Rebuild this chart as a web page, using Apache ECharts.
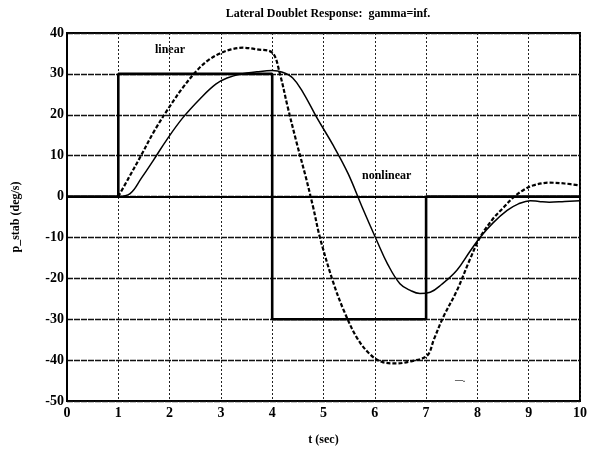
<!DOCTYPE html>
<html><head><meta charset="utf-8">
<script src="https://cdn.jsdelivr.net/npm/echarts@6/dist/echarts.min.js"></script>
<style>html,body{margin:0;padding:0;background:#fff}#c{width:592px;height:453px}</style>
</head><body><div id="c"></div>
<script>
// Doublet input command
var tInput = [0, 1, 1, 4, 4, 7, 7, 10];
var pInput = [0, 0, 30, 30, -30, -30, 0, 0];
// Linear response (dashed)
var tLinear = [1, 1.2, 1.42, 1.7, 2.0, 2.25, 2.53, 2.75, 2.98, 3.2, 3.43, 3.7, 4.0, 4.15, 4.3, 4.48, 4.65, 4.8, 4.93, 5.19, 5.4, 5.65, 5.9, 6.15, 6.43, 6.7, 7.02, 7.15, 7.33, 7.6, 7.85, 8.05, 8.3, 8.5, 8.7, 8.9, 9.08, 9.4, 9.7, 10];
var pLinear = [0, 4.5, 9.5, 16, 22, 26.5, 30.8, 33.3, 35, 36, 36.4, 36, 35.2, 30, 22, 13, 5, -2.7, -10, -21, -28, -34.5, -38.5, -40.5, -40.8, -40.3, -38.9, -35, -29.6, -23, -15.5, -10, -5.5, -2.8, -0.2, 1.6, 2.7, 3.4, 3.2, 2.7];
// Nonlinear response (solid)
var tNonlinear = [1, 1.23, 1.45, 1.68, 1.95, 2.26, 2.6, 2.9, 3.12, 3.4, 3.7, 4.0, 4.2, 4.4, 4.6, 4.87, 5.19, 5.48, 5.75, 6.04, 6.25, 6.49, 6.7, 6.88, 7.08, 7.3, 7.6, 7.85, 8.05, 8.3, 8.58, 8.8, 9.03, 9.2, 9.4, 9.7, 10];
var pNonlinear = [0, 0.7, 4.5, 8.8, 14, 19.3, 24, 27.5, 29, 30, 30.5, 30.8, 30.4, 29, 25.5, 19.3, 12.5, 5.6, -2.5, -10.8, -16.5, -21.3, -23, -23.7, -23.4, -21.5, -18, -13.5, -10, -6.5, -3.4, -1.8, -1, -1.2, -1.4, -1.2, -1];
var xTicks = [0,1,2,3,4,5,6,7,8,9,10];
var yTicks = [-50,-40,-30,-20,-10,0,10,20,30,40];

function zip(a, b) { return a.map(function (v, i) { return [v, b[i]]; }); }
var F = '"Liberation Serif", "DejaVu Serif", serif';
var chart = echarts.init(document.getElementById('c'), null, {renderer: 'canvas'});
chart.setOption({
  animation: false,
  backgroundColor: '#fff',
  title: {
    text: 'Lateral Doublet Response:  gamma=inf.',
    left: 323, top: 3, textAlign: 'center',
    textStyle: {fontFamily: F, fontWeight: 'bold', fontSize: 12, color: '#000'}
  },
  grid: {left: 67, right: 12, top: 33, bottom: 52, show: true, borderColor: '#000', borderWidth: 2, backgroundColor: 'transparent'},
  xAxis: {
    type: 'value', min: 0, max: 10, interval: 1,
    name: 't (sec)', nameLocation: 'middle', nameGap: 33,
    nameTextStyle: {fontFamily: F, fontWeight: 'bold', fontSize: 12, color: '#000'},
    axisLine: {show: true, lineStyle: {color: '#000', width: 2}},
    axisTick: {show: false},
    axisLabel: {fontFamily: F, fontWeight: 'bold', fontSize: 14, color: '#000', margin: 5,
      formatter: function (v) { return xTicks.indexOf(v) >= 0 ? String(v) : ''; }},
    splitLine: {show: true, lineStyle: {color: '#222', width: 1, type: [2, 2]}}
  },
  yAxis: {
    type: 'value', min: -50, max: 40, interval: 10,
    name: 'p_stab (deg/s)', nameLocation: 'middle', nameGap: 45,
    nameTextStyle: {fontFamily: F, fontWeight: 'bold', fontSize: 12, color: '#000'},
    axisLine: {show: true, lineStyle: {color: '#000', width: 2}},
    axisTick: {show: false},
    axisLabel: {fontFamily: F, fontWeight: 'bold', fontSize: 14, color: '#000', margin: 3,
      formatter: function (v) { return yTicks.indexOf(v) >= 0 ? String(v) : ''; }},
    splitLine: {show: true, lineStyle: {color: '#111', width: 1.3, type: [6, 1]}}
  },
  series: [
    {type: 'line', data: zip(tInput, pInput), showSymbol: false, z: 3,
      lineStyle: {color: '#000', width: 2.6}},
    {type: 'line', data: zip(tLinear, pLinear), showSymbol: false, smooth: 0.35, z: 4,
      lineStyle: {color: '#000', width: 2.2, type: [4, 2]}},
    {type: 'line', data: zip(tNonlinear, pNonlinear), showSymbol: false, smooth: 0.4, z: 4,
      lineStyle: {color: '#000', width: 1.5}}
  ],
  graphic: [
    {type: 'text', left: 155, top: 44, style: {text: 'linear', font: 'bold 12px ' + F, fill: '#000'}},
    {type: 'text', left: 362, top: 170, style: {text: 'nonlinear', font: 'bold 12px ' + F, fill: '#000'}},
    {type: 'text', left: 455, top: 376, style: {text: '\u2014.', font: 'bold 8px ' + F, fill: '#000'}}
  ]
});
</script>
</body></html>
